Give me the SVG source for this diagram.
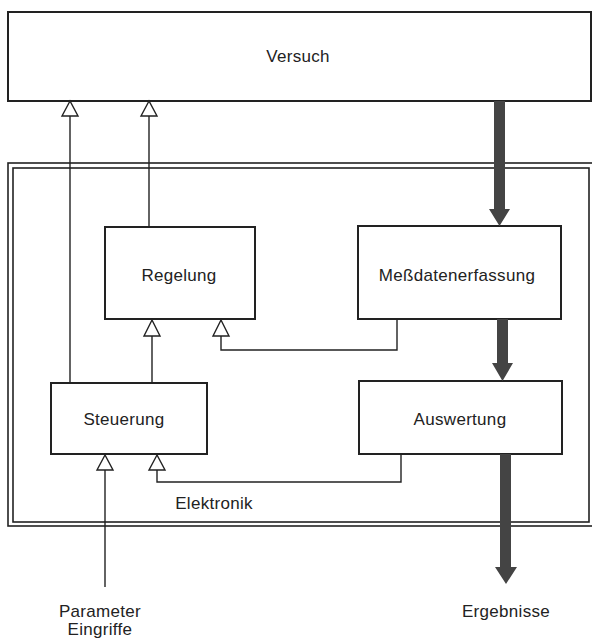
<svg xmlns="http://www.w3.org/2000/svg" width="592" height="639" viewBox="0 0 592 639">
<style>
.box{fill:#fff;stroke:#222;stroke-width:2}
.frame{fill:none;stroke:#222;stroke-width:1.6}
.ln{fill:none;stroke:#222;stroke-width:1.4}
.tri{fill:#fff;stroke:#222;stroke-width:1.4;stroke-linejoin:miter}
.thick{fill:#444;stroke:none}
text{font-family:"Liberation Sans",Arial,sans-serif;font-size:17px;fill:#222;text-anchor:middle;letter-spacing:0.3px}
</style>
<rect width="592" height="639" fill="#fff"/>
<g id="versuch">
<rect class="box" x="8" y="12" width="583" height="89"/>
<text x="298" y="62">Versuch</text>
</g>
<g id="elektronik">
<rect class="frame" x="8" y="163" width="590" height="363"/>
<rect class="frame" x="13" y="168" width="576" height="354"/>
<text x="214" y="509">Elektronik</text>
</g>
<g id="regelung">
<rect class="box" x="105" y="227" width="150" height="92"/>
<text x="179" y="281">Regelung</text>
</g>
<g id="messdatenerfassung">
<rect class="box" x="358" y="226" width="203" height="93"/>
<text x="457" y="281">Meßdatenerfassung</text>
</g>
<g id="steuerung">
<rect class="box" x="51" y="383" width="156" height="71"/>
<text x="124" y="425">Steuerung</text>
</g>
<g id="auswertung">
<rect class="box" x="359" y="381" width="203" height="73"/>
<text x="460" y="425">Auswertung</text>
</g>
<g id="connectors">
<!-- Steuerung -> Versuch -->
<path class="ln" d="M70 383 V116"/>
<path class="tri" d="M70 101 L62 116 L78 116 Z"/>
<!-- Regelung -> Versuch -->
<path class="ln" d="M149 227 V116"/>
<path class="tri" d="M149 101 L141 116 L157 116 Z"/>
<!-- Steuerung -> Regelung -->
<path class="ln" d="M152 383 V336"/>
<path class="tri" d="M152 320 L144 336 L160 336 Z"/>
<!-- Messdaten -> Regelung -->
<path class="ln" d="M397 319 V350 H221 V336"/>
<path class="tri" d="M221 320 L213 336 L229 336 Z"/>
<!-- Parameter -> Steuerung -->
<path class="ln" d="M105 587 V470"/>
<path class="tri" d="M105 455 L97 470 L113 470 Z"/>
<!-- Auswertung -> Steuerung -->
<path class="ln" d="M401 454 V482 H157 V470"/>
<path class="tri" d="M157 455 L149 470 L165 470 Z"/>
<!-- thick arrows -->
<path class="thick" d="M494 101 H505 V209 H510 L499.5 226 L489 209 H494 Z"/>
<path class="thick" d="M497 319 H508 V363 H513 L502.5 381 L492 363 H497 Z"/>
<path class="thick" d="M500 454 H511 V567 H517 L506 584 L495 567 H500 Z"/>
</g>
<text x="100" y="617">Parameter</text>
<text x="100" y="635">Eingriffe</text>
<text x="506" y="617">Ergebnisse</text>
</svg>
